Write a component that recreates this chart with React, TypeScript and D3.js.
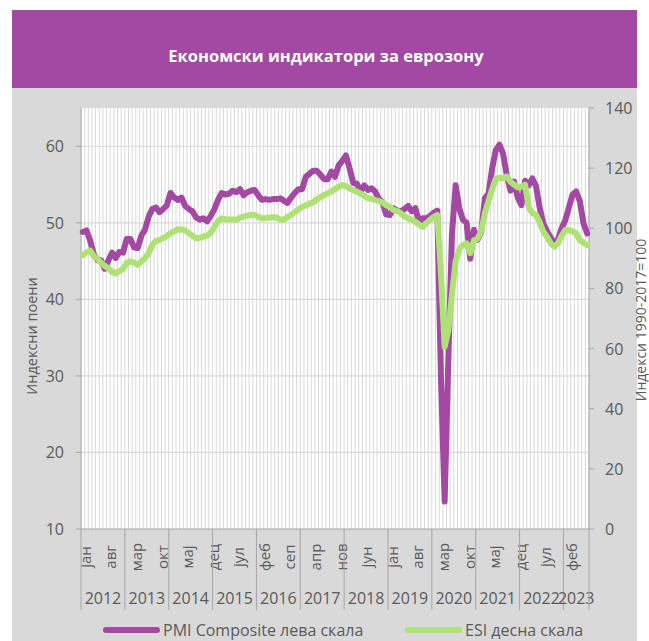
import * as d3 from 'd3';

const monthNames = ['јан', 'феб', 'мар', 'апр', 'мај', 'јун', 'јул', 'авг', 'сеп', 'окт', 'нов', 'дец'];
const years = [2012, 2013, 2014, 2015, 2016, 2017, 2018, 2019, 2020, 2021, 2022, 2023];
const leftTicks = [10, 20, 30, 40, 50, 60];
const rightTicks = [0, 20, 40, 60, 80, 100, 120, 140];

// PMI Composite, monthly, jan 2012 - jul 2023 (left scale)
const pmiComposite = [
  48.8, 49.0, 47.7, 45.9, 45.1, 45.1, 44.0, 45.1, 46.1, 45.4, 46.2, 46.1,
  47.9, 47.9, 46.8, 46.7, 48.3, 49.1, 50.8, 51.8, 52.0, 51.4, 51.8, 52.3,
  53.9, 53.3, 53.0, 53.3, 52.2, 51.8, 51.5, 50.7, 50.4, 50.6, 50.2, 50.9,
  51.8, 53.0, 53.9, 53.7, 53.8, 54.2, 54.0, 54.4, 53.6, 54.0, 54.2, 54.3,
  53.6, 53.0, 53.1, 53.0, 53.1, 53.1, 53.2, 52.9, 52.6, 53.3, 53.9, 54.4,
  54.4, 56.0, 56.4, 56.8, 56.8, 56.3, 55.7, 55.7, 56.7, 56.0, 57.5, 58.1,
  58.8, 57.1, 55.2, 55.1, 54.1, 54.9, 54.3, 54.5, 54.1, 53.1, 52.7, 51.1,
  51.0, 51.9, 51.6, 51.5, 51.8, 52.2, 51.5, 51.9, 50.1, 50.6, 50.6, 50.9,
  51.3, 51.6, 29.7, 13.6, 31.9, 48.5, 54.9, 51.9, 50.4, 50.0, 45.3, 49.1,
  47.8, 48.8, 53.2, 53.8, 57.1, 59.5, 60.2, 59.0, 56.2, 54.2, 55.4, 53.3,
  52.3, 55.5, 54.9, 55.8, 54.8, 52.0, 49.9, 48.9, 48.1, 47.3, 47.8, 49.3,
  50.3, 52.0, 53.7, 54.1, 52.8, 49.9, 48.6,
];

// ESI, monthly, jan 2012 - jul 2023 (right scale)
const esi = [
  91.1, 92.0, 92.6, 90.8, 89.8, 88.5, 87.5, 86.7, 85.5, 85.0, 85.8, 86.5,
  88.5, 89.0, 88.6, 87.8, 89.0, 90.0, 91.7, 94.5, 95.8, 96.1, 96.8, 97.4,
  98.4, 99.0, 99.7, 99.6, 99.3, 98.4, 97.5, 96.7, 96.8, 97.2, 97.6, 98.5,
  100.5, 102.3, 103.3, 103.0, 102.9, 102.9, 102.8, 103.5, 103.9, 104.2, 104.4, 104.4,
  103.8, 103.3, 103.4, 103.6, 103.7, 103.6, 102.8, 102.8, 103.8, 104.4, 105.4, 106.3,
  107.1, 107.6, 108.2, 108.6, 109.6, 110.3, 111.1, 111.6, 112.3, 113.0, 113.8, 114.4,
  114.0, 113.2, 112.6, 112.2, 111.5, 110.8, 110.0, 109.8, 109.4, 109.0, 108.6, 107.6,
  107.2, 106.1, 105.8, 105.0, 104.0, 103.3, 102.8, 102.2, 101.2, 100.5, 101.7, 102.8,
  103.8, 104.4, 85.0, 60.6, 66.0, 78.0, 89.0, 93.0, 94.4, 95.0, 91.7, 96.0,
  96.5, 99.0, 105.0, 109.0, 113.0, 116.5, 116.8, 116.6, 117.2, 115.5, 114.5, 113.6,
  113.8, 114.5, 107.0, 105.0, 104.5, 102.0, 98.9, 97.2, 95.0, 93.9, 95.0, 97.5,
  99.4, 99.4, 99.0, 98.3, 96.1, 95.2, 94.4,
];

const W = 649;
const H = 641;
const plot = { left: 81, right: 589, top: 108, bottom: 529 };
const purple = '#a349a4';
const green = '#afe274';
const axisGray = '#a6a6a6';
const gridGray = '#d9d9d9';
const textGray = '#595959';
const font = "'Open Sans', sans-serif";

export default function App() {
  const idx = d3.range(pmiComposite.length);
  const x = d3.scaleBand<number>().domain(idx).range([plot.left, plot.right]).padding(0);
  const step = x.step();
  const cx = (i: number) => (x(i) ?? 0) + step / 2;
  const yL = d3.scaleLinear().domain([10, 65]).range([plot.bottom, plot.top]);
  const yR = d3.scaleLinear().domain([0, 140]).range([plot.bottom, plot.top]);

  const pmiLine = d3.line<number>().x((_, i) => cx(i)).y((d) => yL(d))(pmiComposite) ?? '';
  const esiLine = d3.line<number>().x((_, i) => cx(i)).y((d) => yR(d))(esi) ?? '';

  const monthTicks = idx.filter((i) => i % 7 === 0);
  const yearBounds = years.map((yr, k) => {
    const start = k * 12;
    const end = Math.min(start + 12, pmiComposite.length);
    return { yr, x0: x(start) ?? 0, x1: end >= pmiComposite.length ? plot.right : (x(end) ?? 0) };
  });

  return (
    <svg width={W} height={H} style={{ position: 'absolute', left: 0, top: 0, display: 'block' }} fontFamily={font}>
      <rect x={0} y={0} width={W} height={H} fill="#ffffff" />
      <rect x={12} y={88} width={625} height={H - 88} fill="#d9d9d9" />
      <rect x={12} y={10} width={625} height={78} fill={purple} />
      <text x={326} y={55} textAnchor="middle" dominantBaseline="central" fill="#ffffff" fontSize={16.5} fontWeight="bold">
        Економски индикатори за еврозону
      </text>

      {/* plot area */}
      <rect x={plot.left} y={plot.top} width={plot.right - plot.left} height={plot.bottom - plot.top} fill="#ffffff" />
      {d3.range(pmiComposite.length + 1).map((k) => (
        <line key={`v${k}`} x1={plot.left + k * step} x2={plot.left + k * step} y1={plot.top} y2={plot.bottom} stroke={gridGray} strokeWidth={1} />
      ))}
      {leftTicks.slice(1).map((t) => (
        <line key={`h${t}`} x1={plot.left} x2={plot.right} y1={yL(t)} y2={yL(t)} stroke={gridGray} strokeWidth={1.2} />
      ))}

      {/* axes */}
      <line x1={plot.left} x2={plot.left} y1={plot.top} y2={plot.bottom} stroke={axisGray} />
      <line x1={plot.right} x2={plot.right} y1={plot.top} y2={plot.bottom} stroke={axisGray} />
      <line x1={plot.left} x2={plot.right} y1={plot.bottom} y2={plot.bottom} stroke={axisGray} />
      {leftTicks.map((t) => (
        <g key={`lt${t}`}>
          <line x1={plot.left - 5} x2={plot.left} y1={yL(t)} y2={yL(t)} stroke={axisGray} />
          <text x={64} y={yL(t)} textAnchor="end" dominantBaseline="central" fill={textGray} fontSize={16}>{t}</text>
        </g>
      ))}
      {rightTicks.map((t) => (
        <g key={`rt${t}`}>
          <line x1={plot.right} x2={plot.right + 5} y1={yR(t)} y2={yR(t)} stroke={axisGray} />
          <text x={605} y={yR(t)} textAnchor="start" dominantBaseline="central" fill={textGray} fontSize={16}>{t}</text>
        </g>
      ))}
      <text transform={`translate(31,336) rotate(-90)`} textAnchor="middle" dominantBaseline="central" fill={textGray} fontSize={14.5}>
        Индексни поени
      </text>
      <text transform={`translate(640,320) rotate(-90)`} textAnchor="middle" dominantBaseline="central" fill={textGray} fontSize={14}>
        Индекси 1990-2017=100
      </text>

      {/* category axis */}
      {monthTicks.map((i) => (
        <text key={`m${i}`} transform={`translate(${cx(i) + 2},557) rotate(-90)`} textAnchor="middle" dominantBaseline="central" fill={textGray} fontSize={15}>
          {monthNames[i % 12]}
        </text>
      ))}
      {yearBounds.map((b) => (
        <g key={`y${b.yr}`}>
          <line x1={b.x0} x2={b.x0} y1={plot.bottom} y2={610} stroke={axisGray} />
          <text x={(b.x0 + b.x1) / 2} y={598} textAnchor="middle" dominantBaseline="central" fill={textGray} fontSize={16}>{b.yr}</text>
        </g>
      ))}
      <line x1={plot.right} x2={plot.right} y1={plot.bottom} y2={610} stroke={axisGray} />

      {/* series */}
      <path d={pmiLine} fill="none" stroke={purple} strokeWidth={6} strokeLinejoin="round" strokeLinecap="round" />
      <path d={esiLine} fill="none" stroke={green} strokeWidth={6} strokeLinejoin="round" strokeLinecap="round" />

      {/* legend */}
      <line x1={106} x2={157} y1={630} y2={630} stroke={purple} strokeWidth={6} strokeLinecap="round" />
      <text x={163} y={630} dominantBaseline="central" fill={textGray} fontSize={16}>PMI Composite лева скала</text>
      <line x1={408} x2={459} y1={630} y2={630} stroke={green} strokeWidth={6} strokeLinecap="round" />
      <text x={465} y={630} dominantBaseline="central" fill={textGray} fontSize={16}>ESI десна скала</text>
    </svg>
  );
}
